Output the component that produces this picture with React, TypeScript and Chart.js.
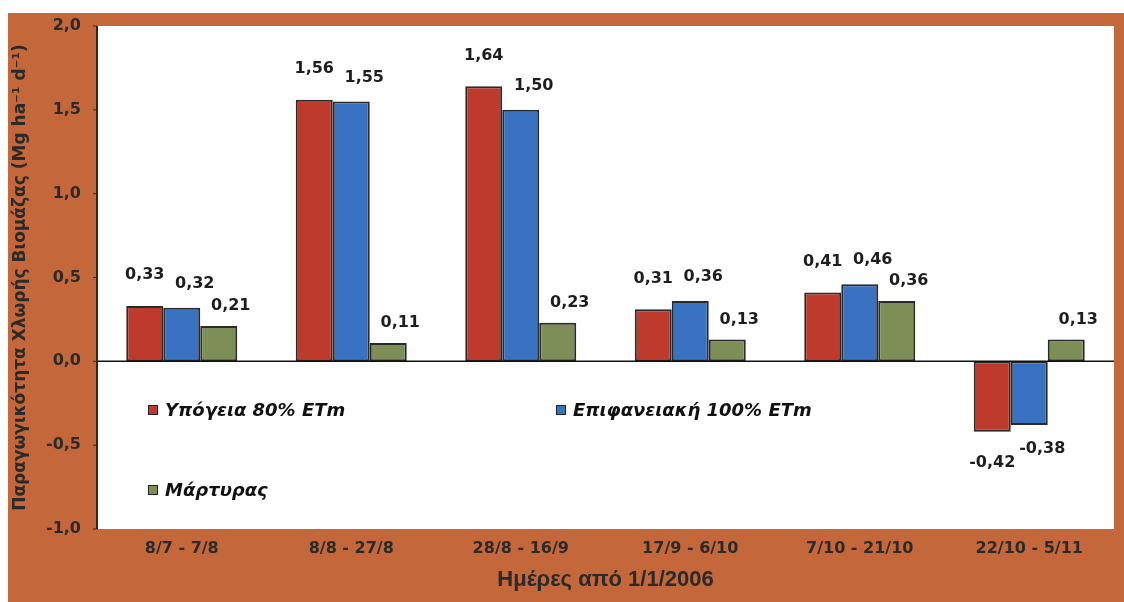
import React, { useEffect, useRef } from "react";
import { Chart, registerables } from "chart.js";

Chart.register(...registerables);

const categories = ["8/7 - 7/8", "8/8 - 27/8", "28/8 - 16/9", "17/9 - 6/10", "7/10 - 21/10", "22/10 - 5/11"];
const seriesNames = ["Υπόγεια 80% ETm", "Επιφανειακή 100% ETm", "Μάρτυρας"];
const subsurface = [0.33, 1.56, 1.64, 0.31, 0.41, -0.42];
const surface = [0.32, 1.55, 1.5, 0.36, 0.46, -0.38];
const control = [0.21, 0.11, 0.23, 0.13, 0.36, 0.13];
const yTicks = [-1.0, -0.5, 0.0, 0.5, 1.0, 1.5, 2.0];

const colors = ["#BE3A2C", "#3A72C2", "#7D8F57"];
const FONT = "'DejaVu Sans', 'Liberation Sans', Arial, sans-serif";
const FONT2 = "'Liberation Sans', Arial, sans-serif";
const fmt = (v: number, d: number) => v.toFixed(d).replace(".", ",");

const backgroundPlugin = {
  id: "bgPanel",
  beforeDraw(chart: any) {
    const { ctx, chartArea } = chart;
    ctx.save();
    ctx.fillStyle = "#ffffff";
    ctx.fillRect(0, 0, chart.width, chart.height);
    ctx.fillStyle = "#C4683B";
    ctx.fillRect(8, 13, chart.width - 8, chart.height - 13);
    ctx.fillStyle = "#ffffff";
    ctx.fillRect(chartArea.left, chartArea.top, chartArea.right - chartArea.left, chartArea.bottom - chartArea.top);
    ctx.restore();
  },
};

const decorPlugin = {
  id: "decor",
  afterDatasetsDraw(chart: any) {
    const { ctx, chartArea, scales } = chart;
    const y0 = scales.y.getPixelForValue(0);
    ctx.save();
    ctx.strokeStyle = "#111";
    ctx.lineWidth = 1.5;
    ctx.beginPath();
    ctx.moveTo(chartArea.left, y0);
    ctx.lineTo(chartArea.right, y0);
    ctx.stroke();
    ctx.strokeStyle = "#3a2418";
    ctx.lineWidth = 2;
    ctx.beginPath();
    ctx.moveTo(chartArea.left, chartArea.top);
    ctx.lineTo(chartArea.left, chartArea.bottom);
    ctx.stroke();
    ctx.lineWidth = 1;
    yTicks.forEach((t) => {
      const py = scales.y.getPixelForValue(t);
      ctx.beginPath();
      ctx.moveTo(chartArea.left - 4, py);
      ctx.lineTo(chartArea.left, py);
      ctx.stroke();
    });

    const offs = [31, 24, 20];
    const dx = [0, 13, 12];
    ctx.fillStyle = "#1e1e1e";
    ctx.font = `bold 16px ${FONT}`;
    ctx.textAlign = "center";
    ctx.textBaseline = "middle";
    chart.data.datasets.forEach((ds: any, di: number) => {
      const meta = chart.getDatasetMeta(di);
      meta.data.forEach((bar: any, i: number) => {
        const v = ds.data[i];
        const y = v >= 0 ? bar.y - offs[di] : bar.y + offs[di];
        ctx.fillText(fmt(v, 2), bar.x + dx[di], y);
      });
    });

    const entries = [
      { x: chartArea.left + 51, y: 410, i: 0 },
      { x: chartArea.left + 459, y: 410, i: 1 },
      { x: chartArea.left + 51, y: 490, i: 2 },
    ];
    ctx.font = `italic bold 18px ${FONT}`;
    ctx.textAlign = "left";
    entries.forEach((e) => {
      ctx.fillStyle = colors[e.i];
      ctx.fillRect(e.x, e.y - 5, 10, 10);
      ctx.strokeStyle = "#222";
      ctx.lineWidth = 1;
      ctx.strokeRect(e.x + 0.5, e.y - 4.5, 9, 9);
      ctx.fillStyle = "#111";
      ctx.fillText(seriesNames[e.i], e.x + 17, e.y + 1);
    });
    ctx.restore();
  },
};

export default function App() {
  const ref = useRef<HTMLCanvasElement>(null);
  useEffect(() => {
    if (!ref.current) return;
    const chart = new Chart(ref.current, {
      type: "bar",
      data: {
        labels: categories,
        datasets: [subsurface, surface, control].map((d, i) => ({
          label: seriesNames[i],
          data: d,
          backgroundColor: colors[i],
          borderColor: "#2a2a2a",
          borderWidth: 2,
          borderSkipped: false,
        })),
      },
      options: {
        responsive: false,
        animation: false,
        categoryPercentage: 0.655,
        barPercentage: 1,
        layout: { padding: { left: 8, top: 26, right: 10, bottom: 0 } },
        plugins: { legend: { display: false }, tooltip: { enabled: false } },
        scales: {
          x: {
            grid: { display: false, drawTicks: false },
            border: { display: false },
            ticks: { color: "#2a2a2a", font: { family: FONT, size: 16, weight: "bold" }, padding: 10 },
            title: {
              display: true,
              text: "Ημέρες από 1/1/2006",
              color: "#2a2a2a",
              font: { family: FONT2, size: 22, weight: "bold" },
              padding: { top: 0, bottom: 9 },
            },
            afterFit(scale: any) {
              scale.height = 73;
            },
          },
          y: {
            min: -1,
            max: 2,
            grid: { display: false, drawTicks: false },
            border: { display: false },
            afterBuildTicks(scale: any) {
              scale.ticks = yTicks.map((v) => ({ value: v }));
            },
            ticks: {
              color: "#2a2a2a",
              font: { family: FONT, size: 16, weight: "bold" },
              padding: 16,
              callback: (v: any) => fmt(Number(v), 1),
            },
            title: {
              display: true,
              text: "Παραγωγικότητα Χλωρής Βιομάζας (Mg ha⁻¹ d⁻¹)",
              color: "#2a2a2a",
              font: { family: FONT, size: 17, weight: "bold" },
              padding: { top: 2, bottom: 0 },
            },
            afterFit(scale: any) {
              scale.width = 89;
            },
          },
        },
      },
      plugins: [backgroundPlugin, decorPlugin],
    });
    return () => chart.destroy();
  }, []);
  return (
    <canvas
      ref={ref}
      width={1124}
      height={602}
      style={{ position: "absolute", left: 0, top: 0, display: "block" }}
    />
  );
}
